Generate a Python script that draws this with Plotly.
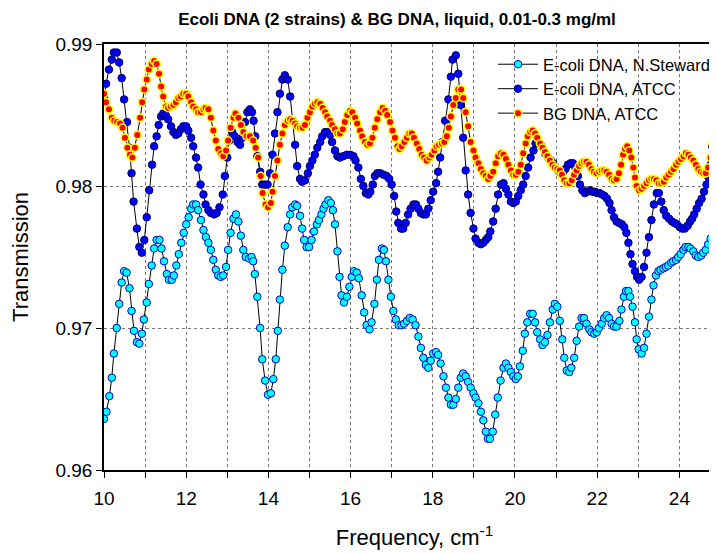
import plotly.graph_objects as go

# E-coli DNA, N.Steward (cyan)
x_steward = [10.00,10.06,10.13,10.19,10.24,10.31,10.37,10.43,10.49,10.55,10.62,10.67,10.73,10.80,10.86,10.92,10.97,11.04,11.09,11.16,
11.22,11.28,11.35,11.40,11.46,11.53,11.58,11.65,11.70,11.76,11.82,11.88,11.94,12.00,12.06,12.12,12.17,12.24,12.29,12.36,
12.42,12.48,12.54,12.60,12.66,12.72,12.78,12.84,12.90,12.97,13.02,13.08,13.15,13.21,13.27,13.33,13.39,13.45,13.53,13.59,
13.63,13.67,13.73,13.80,13.85,13.92,13.99,14.06,14.12,14.18,14.23,14.28,14.34,14.40,14.47,14.53,14.58,14.65,14.70,14.77,
14.82,14.87,14.93,14.99,15.05,15.11,15.18,15.23,15.29,15.34,15.39,15.46,15.52,15.57,15.62,15.68,15.73,15.78,15.84,15.91,
15.97,16.03,16.08,16.15,16.20,16.27,16.33,16.39,16.46,16.51,16.58,16.64,16.69,16.76,16.81,16.86,16.92,16.98,17.04,17.10,
17.17,17.24,17.30,17.37,17.44,17.51,17.58,17.65,17.71,17.77,17.83,17.89,17.95,18.01,18.08,18.13,18.19,18.26,18.32,18.38,
18.44,18.50,18.56,18.62,18.68,18.74,18.80,18.86,18.92,18.99,19.04,19.11,19.17,19.23,19.29,19.34,19.39,19.46,19.52,19.58,
19.65,19.72,19.78,19.84,19.90,19.96,20.02,20.07,20.12,20.19,20.24,20.30,20.37,20.43,20.49,20.54,20.61,20.67,20.73,20.79,
20.85,20.92,20.97,21.03,21.09,21.15,21.20,21.26,21.32,21.37,21.44,21.50,21.56,21.62,21.68,21.74,21.81,21.86,21.93,21.99,
22.04,22.11,22.17,22.23,22.29,22.35,22.41,22.47,22.54,22.59,22.65,22.70,22.76,22.80,22.86,22.92,22.96,23.01,23.08,23.14,
23.20,23.26,23.32,23.37,23.43,23.49,23.54,23.61,23.67,23.73,23.80,23.85,23.92,23.97,24.03,24.10,24.15,24.22,24.27,24.34,
24.40,24.46,24.53,24.58,24.64,24.70,24.76,24.83,24.88,24.94]
y_steward = [0.9636,0.9641,0.9652,0.9665,0.9682,0.9700,0.9717,0.9732,0.9740,0.9739,0.9728,0.9712,0.9698,0.9690,0.9689,0.9696,0.9706,0.9718,0.9731,0.9744,
0.9756,0.9762,0.9762,0.9756,0.9747,0.9738,0.9734,0.9734,0.9737,0.9744,0.9752,0.9760,0.9767,0.9773,0.9778,0.9784,0.9787,0.9787,0.9783,0.9776,
0.9769,0.9764,0.9760,0.9755,0.9748,0.9741,0.9737,0.9736,0.9737,0.9743,0.9755,0.9767,0.9777,0.9780,0.9775,0.9765,0.9755,0.9750,0.9749,0.9750,
0.9747,0.9738,0.9722,0.9700,0.9678,0.9663,0.9653,0.9654,0.9664,0.9678,0.9698,0.9720,0.9741,0.9758,0.9771,0.9780,0.9785,0.9787,0.9786,0.9779,
0.9770,0.9762,0.9757,0.9757,0.9762,0.9768,0.9773,0.9776,0.9780,0.9784,0.9787,0.9790,0.9788,0.9783,0.9773,0.9754,0.9736,0.9723,0.9718,0.9722,
0.9729,0.9736,0.9740,0.9739,0.9735,0.9723,0.9711,0.9702,0.9699,0.9704,0.9717,0.9734,0.9748,0.9756,0.9755,0.9747,0.9734,0.9722,0.9712,0.9706,
0.9702,0.9702,0.9703,0.9705,0.9707,0.9706,0.9702,0.9694,0.9686,0.9679,0.9674,0.9672,0.9677,0.9682,0.9683,0.9681,0.9675,0.9666,0.9658,0.9651,
0.9646,0.9646,0.9650,0.9658,0.9665,0.9668,0.9666,0.9662,0.9658,0.9654,0.9651,0.9647,0.9641,0.9635,0.9627,0.9622,0.9622,0.9627,0.9639,0.9651,
0.9663,0.9672,0.9675,0.9672,0.9669,0.9666,0.9664,0.9666,0.9673,0.9684,0.9696,0.9704,0.9710,0.9710,0.9704,0.9697,0.9692,0.9688,0.9690,0.9695,
0.9704,0.9713,0.9717,0.9715,0.9705,0.9692,0.9679,0.9670,0.9669,0.9672,0.9679,0.9691,0.9701,0.9707,0.9707,0.9703,0.9699,0.9697,0.9696,0.9697,
0.9700,0.9703,0.9707,0.9709,0.9707,0.9703,0.9701,0.9701,0.9705,0.9713,0.9722,0.9726,0.9726,0.9722,0.9715,0.9704,0.9692,0.9685,0.9682,0.9686,
0.9696,0.9708,0.9720,0.9730,0.9737,0.9740,0.9741,0.9742,0.9743,0.9744,0.9746,0.9747,0.9748,0.9750,0.9752,0.9755,0.9757,0.9757,0.9756,0.9754,
0.9751,0.9750,0.9751,0.9753,0.9755,0.9759,0.9763,0.9769,0.9776,0.9785]

# E-coli DNA, ATCC (blue)
x_atcc = [10.00,10.05,10.12,10.19,10.24,10.31,10.37,10.43,10.49,10.56,10.62,10.67,10.72,10.80,10.86,10.92,10.98,11.04,11.10,11.17,
11.22,11.28,11.33,11.39,11.44,11.50,11.56,11.63,11.69,11.75,11.81,11.87,11.93,12.00,12.05,12.12,12.17,12.24,12.29,12.35,
12.42,12.47,12.54,12.60,12.68,12.74,12.81,12.89,12.94,13.00,13.05,13.12,13.18,13.25,13.31,13.37,13.43,13.49,13.55,13.60,
13.64,13.68,13.73,13.80,13.85,13.92,13.98,14.04,14.10,14.16,14.22,14.28,14.34,14.40,14.47,14.53,14.59,14.65,14.70,14.77,
14.82,14.89,14.96,15.01,15.07,15.13,15.19,15.26,15.31,15.38,15.43,15.50,15.55,15.62,15.68,15.74,15.82,15.91,15.99,16.07,
16.12,16.19,16.25,16.31,16.37,16.43,16.48,16.54,16.59,16.65,16.72,16.80,16.88,16.94,17.00,17.06,17.11,17.16,17.23,17.28,
17.34,17.40,17.46,17.53,17.59,17.65,17.71,17.77,17.83,17.89,17.95,18.01,18.08,18.13,18.18,18.23,18.30,18.38,18.44,18.48,
18.56,18.62,18.68,18.74,18.80,18.86,18.92,18.99,19.04,19.11,19.17,19.23,19.29,19.35,19.40,19.47,19.53,19.59,19.66,19.72,
19.78,19.84,19.90,19.96,20.02,20.08,20.14,20.20,20.26,20.32,20.38,20.45,20.50,20.57,20.65,20.73,20.81,20.87,20.93,20.99,
21.05,21.11,21.17,21.23,21.29,21.35,21.41,21.47,21.53,21.58,21.64,21.70,21.76,21.82,21.88,21.94,22.00,22.06,22.12,22.18,
22.24,22.30,22.35,22.41,22.47,22.53,22.60,22.66,22.71,22.76,22.81,22.86,22.92,22.97,23.02,23.08,23.14,23.20,23.26,23.32,
23.38,23.45,23.50,23.56,23.62,23.68,23.75,23.82,23.88,23.94,24.01,24.07,24.13,24.20,24.26,24.31,24.36,24.42,24.48,24.54,
24.60,24.66,24.71,24.76,24.80,24.84,24.87,24.91]
y_atcc = [0.9862,0.9872,0.9882,0.9889,0.9894,0.9894,0.9887,0.9876,0.9861,0.9845,0.9827,0.9809,0.9789,0.9770,0.9757,0.9753,0.9762,0.9778,0.9797,0.9815,
0.9828,0.9835,0.9843,0.9849,0.9851,0.9850,0.9847,0.9842,0.9838,0.9836,0.9837,0.9840,0.9842,0.9842,0.9839,0.9834,0.9828,0.9820,0.9813,0.9801,
0.9794,0.9787,0.9783,0.9781,0.9780,0.9781,0.9785,0.9794,0.9807,0.9820,0.9832,0.9838,0.9835,0.9831,0.9829,0.9834,0.9845,0.9852,0.9854,0.9852,
0.9846,0.9835,0.9821,0.9810,0.9801,0.9801,0.9801,0.9809,0.9822,0.9837,0.9852,0.9865,0.9875,0.9878,0.9875,0.9863,0.9846,0.9829,0.9814,0.9805,
0.9803,0.9804,0.9809,0.9814,0.9818,0.9822,0.9827,0.9831,0.9835,0.9838,0.9838,0.9836,0.9831,0.9825,0.9821,0.9820,0.9821,0.9822,0.9822,0.9821,
0.9818,0.9813,0.9805,0.9800,0.9795,0.9794,0.9796,0.9801,0.9807,0.9809,0.9809,0.9808,0.9807,0.9805,0.9801,0.9793,0.9782,0.9774,0.9770,0.9770,
0.9774,0.9780,0.9784,0.9787,0.9787,0.9784,0.9781,0.9780,0.9780,0.9784,0.9790,0.9796,0.9802,0.9810,0.9820,0.9831,0.9846,0.9861,0.9877,0.9889,
0.9892,0.9879,0.9857,0.9834,0.9811,0.9794,0.9781,0.9770,0.9763,0.9760,0.9759,0.9760,0.9762,0.9764,0.9768,0.9775,0.9784,0.9794,0.9801,0.9802,
0.9798,0.9794,0.9789,0.9788,0.9789,0.9793,0.9797,0.9801,0.9807,0.9813,0.9820,0.9825,0.9830,0.9830,0.9828,0.9823,0.9820,0.9818,0.9816,0.9813,
0.9811,0.9809,0.9810,0.9812,0.9815,0.9816,0.9816,0.9813,0.9807,0.9801,0.9797,0.9795,0.9796,0.9797,0.9796,0.9796,0.9795,0.9795,0.9794,0.9793,
0.9791,0.9788,0.9783,0.9778,0.9775,0.9774,0.9773,0.9771,0.9767,0.9760,0.9752,0.9745,0.9740,0.9736,0.9734,0.9736,0.9743,0.9753,0.9764,0.9776,
0.9787,0.9795,0.9795,0.9789,0.9783,0.9779,0.9777,0.9775,0.9774,0.9773,0.9771,0.9770,0.9770,0.9772,0.9775,0.9777,0.9780,0.9784,0.9788,0.9791,
0.9796,0.9801,0.9806,0.9815,0.9828,0.9842,0.9852,0.9868]

# BG DNA, ATCC (red / yellow)
x_bg = [10.00,10.05,10.12,10.19,10.25,10.32,10.39,10.45,10.51,10.57,10.63,10.69,10.75,10.81,10.88,10.93,10.98,11.04,11.09,11.16,
11.22,11.28,11.34,11.39,11.44,11.51,11.56,11.63,11.69,11.75,11.81,11.87,11.93,12.00,12.05,12.12,12.17,12.24,12.29,12.36,
12.42,12.47,12.54,12.60,12.66,12.72,12.78,12.85,12.90,12.97,13.02,13.08,13.15,13.20,13.27,13.33,13.39,13.47,13.55,13.63,
13.69,13.75,13.81,13.86,13.93,13.99,14.06,14.10,14.16,14.22,14.28,14.34,14.40,14.47,14.53,14.59,14.65,14.70,14.77,14.83,
14.89,14.95,15.01,15.07,15.13,15.19,15.26,15.32,15.38,15.43,15.50,15.55,15.62,15.68,15.74,15.81,15.86,15.92,15.99,16.04,
16.11,16.16,16.23,16.28,16.35,16.41,16.47,16.53,16.59,16.65,16.72,16.78,16.84,16.89,16.96,17.02,17.08,17.14,17.19,17.24,
17.31,17.37,17.43,17.49,17.54,17.61,17.67,17.73,17.79,17.85,17.92,17.97,18.04,18.09,18.15,18.22,18.28,18.34,18.39,18.44,
18.50,18.56,18.62,18.69,18.74,18.80,18.86,18.92,18.99,19.04,19.11,19.17,19.23,19.29,19.35,19.40,19.47,19.53,19.59,19.66,
19.72,19.78,19.84,19.90,19.96,20.02,20.08,20.14,20.20,20.26,20.31,20.37,20.43,20.49,20.54,20.61,20.67,20.73,20.79,20.85,
20.91,20.97,21.03,21.09,21.14,21.20,21.26,21.32,21.38,21.44,21.50,21.56,21.62,21.68,21.74,21.80,21.86,21.92,21.99,22.05,
22.11,22.17,22.23,22.29,22.35,22.41,22.47,22.53,22.58,22.63,22.68,22.73,22.78,22.83,22.88,22.92,22.96,23.02,23.08,23.14,
23.20,23.26,23.32,23.38,23.44,23.50,23.56,23.62,23.68,23.74,23.80,23.86,23.92,23.98,24.04,24.10,24.16,24.22,24.28,24.34,
24.40,24.46,24.52,24.58,24.64,24.70,24.76,24.81,24.86,24.91]
y_bg = [0.9865,0.9859,0.9854,0.9848,0.9846,0.9845,0.9844,0.9841,0.9834,0.9827,0.9822,0.9820,0.9827,0.9836,0.9848,0.9859,0.9868,0.9875,0.9882,0.9886,
0.9888,0.9886,0.9879,0.9870,0.9863,0.9856,0.9855,0.9856,0.9857,0.9859,0.9862,0.9863,0.9865,0.9865,0.9863,0.9859,0.9856,0.9854,0.9852,0.9852,
0.9854,0.9855,0.9854,0.9848,0.9839,0.9832,0.9826,0.9823,0.9821,0.9825,0.9832,0.9841,0.9848,0.9851,0.9848,0.9843,0.9838,0.9835,0.9835,0.9832,
0.9827,0.9820,0.9807,0.9795,0.9787,0.9785,0.9788,0.9796,0.9807,0.9818,0.9829,0.9837,0.9843,0.9846,0.9847,0.9846,0.9844,0.9842,0.9841,0.9841,
0.9843,0.9848,0.9852,0.9856,0.9858,0.9859,0.9858,0.9855,0.9852,0.9849,0.9846,0.9843,0.9840,0.9837,0.9837,0.9840,0.9845,0.9850,0.9853,0.9852,
0.9848,0.9844,0.9839,0.9835,0.9831,0.9829,0.9830,0.9834,0.9841,0.9847,0.9852,0.9855,0.9853,0.9850,0.9845,0.9839,0.9834,0.9828,0.9826,0.9828,
0.9831,0.9834,0.9837,0.9837,0.9834,0.9830,0.9826,0.9822,0.9820,0.9818,0.9820,0.9822,0.9825,0.9828,0.9829,0.9830,0.9831,0.9835,0.9841,0.9849,
0.9857,0.9862,0.9868,0.9868,0.9862,0.9852,0.9842,0.9831,0.9825,0.9820,0.9816,0.9812,0.9809,0.9807,0.9805,0.9807,0.9810,0.9816,0.9821,0.9823,
0.9822,0.9819,0.9815,0.9811,0.9808,0.9808,0.9810,0.9815,0.9823,0.9830,0.9835,0.9838,0.9839,0.9837,0.9834,0.9830,0.9827,0.9824,0.9821,0.9818,
0.9815,0.9813,0.9812,0.9811,0.9808,0.9804,0.9802,0.9802,0.9804,0.9808,0.9811,0.9814,0.9816,0.9817,0.9817,0.9815,0.9812,0.9810,0.9809,0.9810,
0.9811,0.9811,0.9810,0.9808,0.9805,0.9804,0.9805,0.9809,0.9815,0.9822,0.9826,0.9828,0.9825,0.9820,0.9813,0.9806,0.9800,0.9797,0.9798,0.9800,
0.9802,0.9804,0.9805,0.9805,0.9804,0.9802,0.9802,0.9803,0.9806,0.9808,0.9810,0.9812,0.9815,0.9817,0.9819,0.9821,0.9823,0.9822,0.9820,0.9818,
0.9815,0.9812,0.9810,0.9809,0.9809,0.9813,0.9820,0.9830,0.9842,0.9852]

x_tickvals = [10, 12, 14, 16, 18, 20, 22, 24]
x_ticktext = ["10", "12", "14", "16", "18", "20", "22", "24"]
y_tickvals = [0.96, 0.97, 0.98, 0.99]
y_ticktext = ["0.96", "0.97", "0.98", "0.99"]

FONT = "Liberation Sans, Arial, sans-serif"

# page body has an 8px margin: figure coordinates = screen coordinates - 8
W, H = 717, 546
L, T, B = 96, 36, 84
PW, PH = W - L, H - T - B

fig = go.Figure()
fig.add_trace(go.Scatter(
    x=x_steward, y=y_steward, mode="lines+markers", name="E-coli DNA, N.Steward",
    line=dict(color="black", width=1),
    marker=dict(size=7.5, color="#00FFFF", line=dict(color="#0000CC", width=1)),
))
fig.add_trace(go.Scatter(
    x=x_atcc, y=y_atcc, mode="lines+markers", name="E-coli DNA, ATCC",
    line=dict(color="black", width=1),
    marker=dict(size=7.5, color="#0000FF", line=dict(color="#000066", width=1)),
))
fig.add_trace(go.Scatter(
    x=x_bg, y=y_bg, mode="lines+markers", name="BG DNA, ATCC",
    line=dict(color="black", width=1),
    marker=dict(size=7.5, color="#FF0000", line=dict(color="#FFFF00", width=1.5)),
))

fig.update_layout(
    width=W, height=H,
    margin=dict(l=L, r=0, t=T, b=B, autoexpand=False),
    paper_bgcolor="white", plot_bgcolor="white",
    font=dict(family=FONT, color="black"),
    title=dict(text="<b>Ecoli DNA (2 strains) & BG DNA, liquid, 0.01-0.3 mg/ml</b>",
               x=389/W, xref="container", xanchor="center",
               y=1 - 11/H, yref="container", yanchor="middle",
               font=dict(size=17, family=FONT)),
    showlegend=True,
    legend=dict(x=(485-L)/PW, y=(T+PH-39)/PH, xanchor="left", yanchor="top",
                bgcolor="rgba(0,0,0,0)", borderwidth=0,
                font=dict(size=16.5, family=FONT), tracegroupgap=0, itemwidth=40),
)

fig.update_xaxes(
    range=[10, 25.11], tickvals=x_tickvals, ticktext=x_ticktext, automargin=False,
    showline=True, linecolor="black", linewidth=1.5, mirror=True,
    ticks="outside", ticklen=6, tickcolor="black", tickwidth=1,
    ticklabelstandoff=4,
    tickfont=dict(size=19, family=FONT),
    showgrid=True, gridcolor="#777777", griddash="dot", gridwidth=1,
    minor=dict(dtick=1, tick0=10, ticks="outside", ticklen=6, tickcolor="black",
               showgrid=True, gridcolor="#777777", griddash="dot", gridwidth=1),
    zeroline=False,
    title=dict(text="Frequency, cm<sup>-1</sup>", font=dict(size=22, family=FONT), standoff=22),
)
fig.update_yaxes(
    range=[0.96, 0.99], tickvals=y_tickvals, ticktext=y_ticktext, automargin=False,
    showline=True, linecolor="black", linewidth=1.5, mirror=False,
    ticks="outside", ticklen=6, tickcolor="black", tickwidth=1,
    tickfont=dict(size=19, family=FONT),
    showgrid=True, gridcolor="#777777", griddash="dot", gridwidth=1,
    zeroline=False,
    title=dict(text="Transmission", font=dict(size=22, family=FONT), standoff=28),
)

fig.write_html("out.html")
